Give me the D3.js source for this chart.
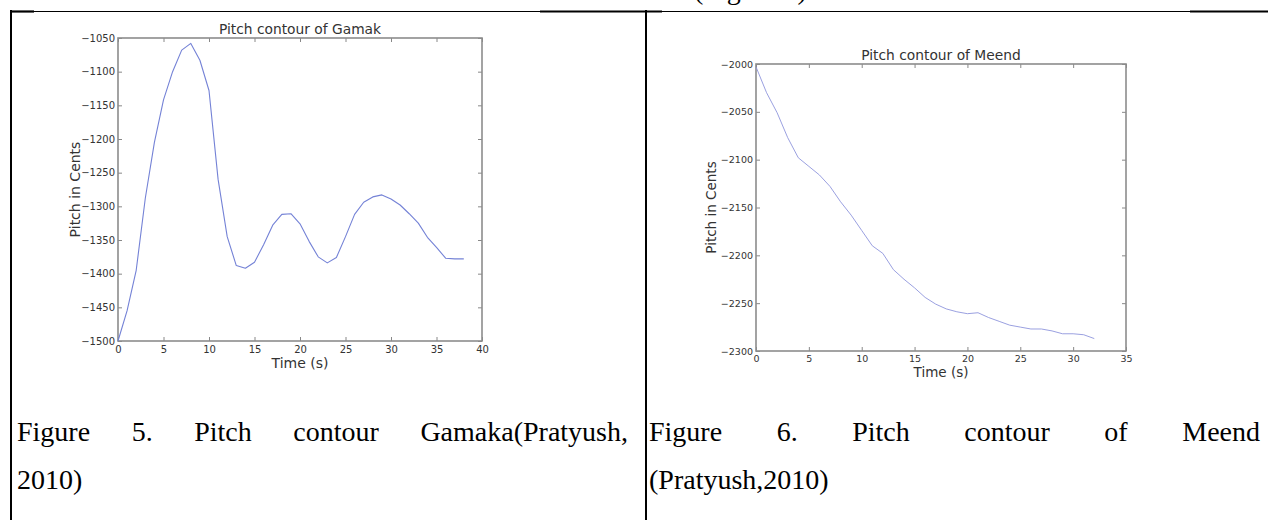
<!DOCTYPE html>
<html>
<head>
<meta charset="utf-8">
<script src="https://cdn.jsdelivr.net/npm/d3@7"></script>
<style>
  body { margin: 0; background: #fff; }
  svg { display: block; }
</style>
</head>
<body>
<div id="page"></div>
<script>
// Gamak pitch contour (time in s, pitch in cents)
var gamakTime = [0, 1, 2, 3, 4, 5, 6, 7, 8, 9, 10, 11, 12, 13, 14, 15, 16, 17, 18, 19,
                 20, 21, 22, 23, 24, 25, 26, 27, 28, 29, 30, 31, 32, 33, 34, 35, 36, 37, 38];
var gamakPitch = [-1500, -1455, -1395, -1288, -1205, -1142, -1100, -1068, -1058, -1083,
                  -1128, -1260, -1345, -1388, -1392, -1383, -1357, -1328, -1312, -1311,
                  -1326, -1352, -1375, -1384, -1376, -1345, -1312, -1294, -1286, -1283,
                  -1289, -1298, -1311, -1325, -1346, -1361, -1377, -1378, -1378];

// Meend pitch contour
var meendTime = [0, 1, 2, 3, 4, 5, 6, 7, 8, 9, 10, 11, 12, 13, 14, 15, 16, 17, 18, 19,
                 20, 21, 22, 23, 24, 25, 26, 27, 28, 29, 30, 31, 32];
var meendPitch = [-2003, -2030, -2051, -2077, -2098, -2107, -2116, -2128, -2144, -2158,
                  -2174, -2190, -2198, -2215, -2225, -2234, -2244, -2251, -2256, -2259,
                  -2261, -2260, -2265, -2269, -2273, -2275, -2277, -2277, -2279, -2282,
                  -2282, -2283, -2287];

var gamakXTicks = [0, 5, 10, 15, 20, 25, 30, 35, 40];
var gamakYTicks = [-1500, -1450, -1400, -1350, -1300, -1250, -1200, -1150, -1100, -1050];
var meendXTicks = [0, 5, 10, 15, 20, 25, 30, 35];
var meendYTicks = [-2300, -2250, -2200, -2150, -2100, -2050, -2000];

var W = 1268, H = 520;

var svg = d3.select("#page").append("svg")
    .attr("width", W)
    .attr("height", H);

// table borders of the document page
var border = svg.append("g").attr("stroke", "#000");
border.append("line").attr("x1", 10).attr("x2", W).attr("y1", 11.5).attr("y2", 11.5).attr("stroke-width", 1.2);
[[10, 34], [540, 662], [1190, W]].forEach(function(s) {
  border.append("line").attr("x1", s[0]).attr("x2", s[1]).attr("y1", 11.5).attr("y2", 11.5).attr("stroke-width", 2.2);
});
border.append("line").attr("x1", 11).attr("x2", 11).attr("y1", 10).attr("y2", H).attr("stroke-width", 2);
border.append("line").attr("x1", 646).attr("x2", 646).attr("y1", 10).attr("y2", H).attr("stroke-width", 2);

// cut-off text from the line above the table
svg.append("text")
    .attr("x", 694).attr("y", -1)
    .style("font-family", "'Liberation Serif', 'Times New Roman', serif")
    .style("font-size", "28px")
    .text("(Figure 4)");

function drawChart(opt) {
  var x = d3.scaleLinear().domain(opt.xDomain).range([opt.left, opt.right]);
  var y = d3.scaleLinear().domain(opt.yDomain).range([opt.bottom, opt.top]);
  var g = svg.append("g");
  var font = "'DejaVu Sans', Verdana, sans-serif";

  // ticks pointing inward on all four sides
  function styleAxis(sel, size) {
    sel.select(".domain").remove();
    sel.selectAll("line").attr("stroke", "#888").attr("stroke-width", 1);
    sel.selectAll("text").attr("fill", "#333")
        .style("font-family", font).style("font-size", size + "px");
  }

  g.append("g")
      .attr("transform", "translate(0," + opt.bottom + ")")
      .call(d3.axisBottom(x).tickValues(opt.xTicks).tickSize(-4).tickPadding(opt.xPad).tickFormat(d3.format("d")))
      .call(styleAxis, opt.tickFont);
  g.append("g")
      .attr("transform", "translate(0," + opt.top + ")")
      .call(d3.axisTop(x).tickValues(opt.xTicks).tickSize(-4).tickFormat(""))
      .call(styleAxis, opt.tickFont);
  g.append("g")
      .attr("transform", "translate(" + opt.left + ",0)")
      .call(d3.axisLeft(y).tickValues(opt.yTicks).tickSize(-4).tickPadding(3).tickFormat(d3.format("d")))
      .call(styleAxis, opt.tickFont);
  g.append("g")
      .attr("transform", "translate(" + opt.right + ",0)")
      .call(d3.axisRight(y).tickValues(opt.yTicks).tickSize(-4).tickFormat(""))
      .call(styleAxis, opt.tickFont);

  // frame
  g.append("rect")
      .attr("x", opt.left).attr("y", opt.top)
      .attr("width", opt.right - opt.left).attr("height", opt.bottom - opt.top)
      .attr("fill", "none").attr("stroke", "#8c8c8c").attr("stroke-width", 1.6);

  var line = d3.line()
      .x(function(d) { return x(d[0]); })
      .y(function(d) { return y(d[1]); });

  g.append("path")
      .datum(d3.zip(opt.t, opt.v))
      .attr("fill", "none")
      .attr("stroke", opt.color)
      .attr("stroke-width", opt.width)
      .attr("stroke-linejoin", "round")
      .attr("d", line);

  var cx = (opt.left + opt.right) / 2;
  g.append("text")
      .attr("x", cx).attr("y", opt.top - 4)
      .attr("text-anchor", "middle").attr("fill", "#333")
      .style("font-family", font).style("font-size", opt.titleFont + "px")
      .text(opt.title);
  g.append("text")
      .attr("x", cx).attr("y", opt.xLabelY)
      .attr("text-anchor", "middle").attr("fill", "#333")
      .style("font-family", font).style("font-size", opt.labelFont + "px")
      .text("Time (s)");
  g.append("text")
      .attr("transform", "translate(" + opt.yLabelX + "," + ((opt.top + opt.bottom) / 2) + ") rotate(-90)")
      .attr("text-anchor", "middle").attr("fill", "#333")
      .style("font-family", font).style("font-size", opt.labelFont + "px")
      .text("Pitch in Cents");
}

drawChart({
  t: gamakTime, v: gamakPitch,
  xDomain: [0, 40], yDomain: [-1500, -1050],
  xTicks: gamakXTicks, yTicks: gamakYTicks,
  left: 118, right: 482, top: 38, bottom: 341,
  xPad: 5, tickFont: 10, titleFont: 13.8, labelFont: 14,
  xLabelY: 368, yLabelX: 80,
  color: "#7482d6", width: 1.1,
  title: "Pitch contour of Gamak"
});

drawChart({
  t: meendTime, v: meendPitch,
  xDomain: [0, 35], yDomain: [-2300, -2000],
  xTicks: meendXTicks, yTicks: meendYTicks,
  left: 756, right: 1126, top: 64, bottom: 351,
  xPad: 4, tickFont: 9.5, titleFont: 13.8, labelFont: 13.5,
  xLabelY: 377, yLabelX: 716,
  color: "#8e95dc", width: 0.9,
  title: "Pitch contour of Meend"
});

// captions (justified first line, so words are placed on their own)
var serif = "'Liberation Serif', 'Times New Roman', serif";
function caption(words, x0, x1, y) {
  var g = svg.append("g").style("font-family", serif).style("font-size", "28px").attr("fill", "#000");
  var texts = words.map(function(w) { return g.append("text").attr("y", y).text(w); });
  var widths = texts.map(function(t) { return t.node().getComputedTextLength(); });
  var gap = (x1 - x0 - d3.sum(widths)) / (words.length - 1);
  var cur = x0;
  texts.forEach(function(t, i) { t.attr("x", cur); cur += widths[i] + gap; });
}
caption(["Figure", "5.", "Pitch", "contour", "Gamaka(Pratyush,"], 17, 628, 441);
caption(["Figure", "6.", "Pitch", "contour", "of", "Meend"], 649, 1260, 441);
svg.append("text").attr("x", 17).attr("y", 489)
    .style("font-family", serif).style("font-size", "28px").text("2010)");
svg.append("text").attr("x", 649).attr("y", 489)
    .style("font-family", serif).style("font-size", "28px").text("(Pratyush,2010)");
</script>
</body>
</html>
